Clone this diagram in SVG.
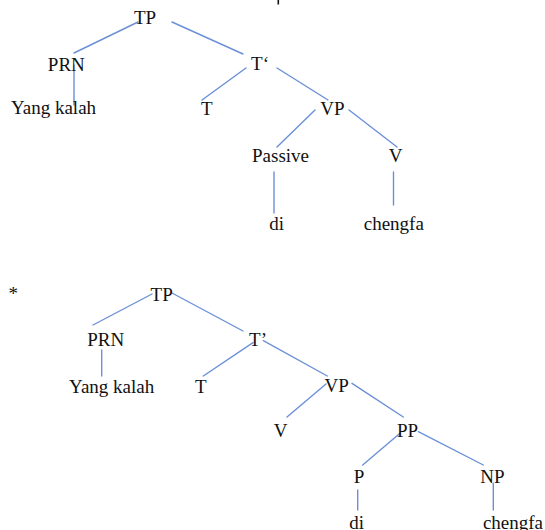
<svg xmlns="http://www.w3.org/2000/svg" width="545" height="530" viewBox="0 0 545 530">
<style>
text{font-family:"Liberation Serif","Tinos","Times New Roman","DejaVu Serif",serif;font-size:19px;fill:#111;text-anchor:middle}
.c line{stroke:#6b90d8;stroke-width:1.4;stroke-linecap:round}
</style>
<rect width="545" height="530" fill="#fff"/>
<line x1="278.3" y1="0" x2="278.3" y2="4.5" stroke="#111" stroke-width="1.6"/>
<g class="c" id="connectors">
<line x1="138" y1="22" x2="74" y2="53"/>
<line x1="172" y1="22" x2="243" y2="54"/>
<line x1="74" y1="65" x2="74" y2="105"/>
<line x1="246" y1="68" x2="202" y2="100"/>
<line x1="277" y1="68" x2="328" y2="100"/>
<line x1="315" y1="110" x2="277" y2="147"/>
<line x1="349" y1="110" x2="397" y2="147"/>
<line x1="274" y1="172" x2="274" y2="213"/>
<line x1="393.5" y1="172" x2="393.5" y2="205"/>
<line x1="152" y1="294" x2="93" y2="325"/>
<line x1="172" y1="293" x2="243" y2="331"/>
<line x1="101.7" y1="350" x2="101.7" y2="376"/>
<line x1="253" y1="342.7" x2="203.3" y2="376"/>
<line x1="263.3" y1="340.7" x2="327.3" y2="376"/>
<line x1="326" y1="384" x2="287" y2="417"/>
<line x1="352" y1="383.3" x2="403.3" y2="417"/>
<line x1="400" y1="433.3" x2="362.7" y2="465"/>
<line x1="418.3" y1="431.7" x2="483.3" y2="465"/>
<line x1="357.7" y1="490" x2="357.7" y2="510"/>
<line x1="493.3" y1="483.3" x2="493.3" y2="510"/>
</g>
<g id="t1-TP"><text x="145" y="24">TP</text></g>
<g id="t1-PRN"><text x="66.3" y="71">PRN</text></g>
<g id="t1-Tbar"><text x="260" y="70">T‘</text></g>
<g id="t1-yang"><text x="53.5" y="114">Yang kalah</text></g>
<g id="t1-T"><text x="206.7" y="115">T</text></g>
<g id="t1-VP"><text x="332.5" y="115">VP</text></g>
<g id="t1-passive"><text x="280.5" y="161.7">Passive</text></g>
<g id="t1-V"><text x="395.5" y="161.7">V</text></g>
<g id="t1-di"><text x="276.7" y="230">di</text></g>
<g id="t1-chengfa"><text x="393.8" y="230">chengfa</text></g>
<g id="star"><text x="13.3" y="300">*</text></g>
<g id="t2-TP"><text x="161.7" y="300.5">TP</text></g>
<g id="t2-PRN"><text x="105.7" y="346">PRN</text></g>
<g id="t2-Tbar"><text x="258" y="345.5">T’</text></g>
<g id="t2-yang"><text x="111.7" y="392.5">Yang kalah</text></g>
<g id="t2-T"><text x="200.8" y="392.5">T</text></g>
<g id="t2-VP"><text x="336.7" y="391.7">VP</text></g>
<g id="t2-V"><text x="280.5" y="436.7">V</text></g>
<g id="t2-PP"><text x="407.5" y="436.7">PP</text></g>
<g id="t2-P"><text x="359" y="483.3">P</text></g>
<g id="t2-NP"><text x="492.5" y="483.3">NP</text></g>
<g id="t2-di"><text x="356.7" y="528.5">di</text></g>
<g id="t2-chengfa"><text x="513" y="528.5">chengfa</text></g>
</svg>
